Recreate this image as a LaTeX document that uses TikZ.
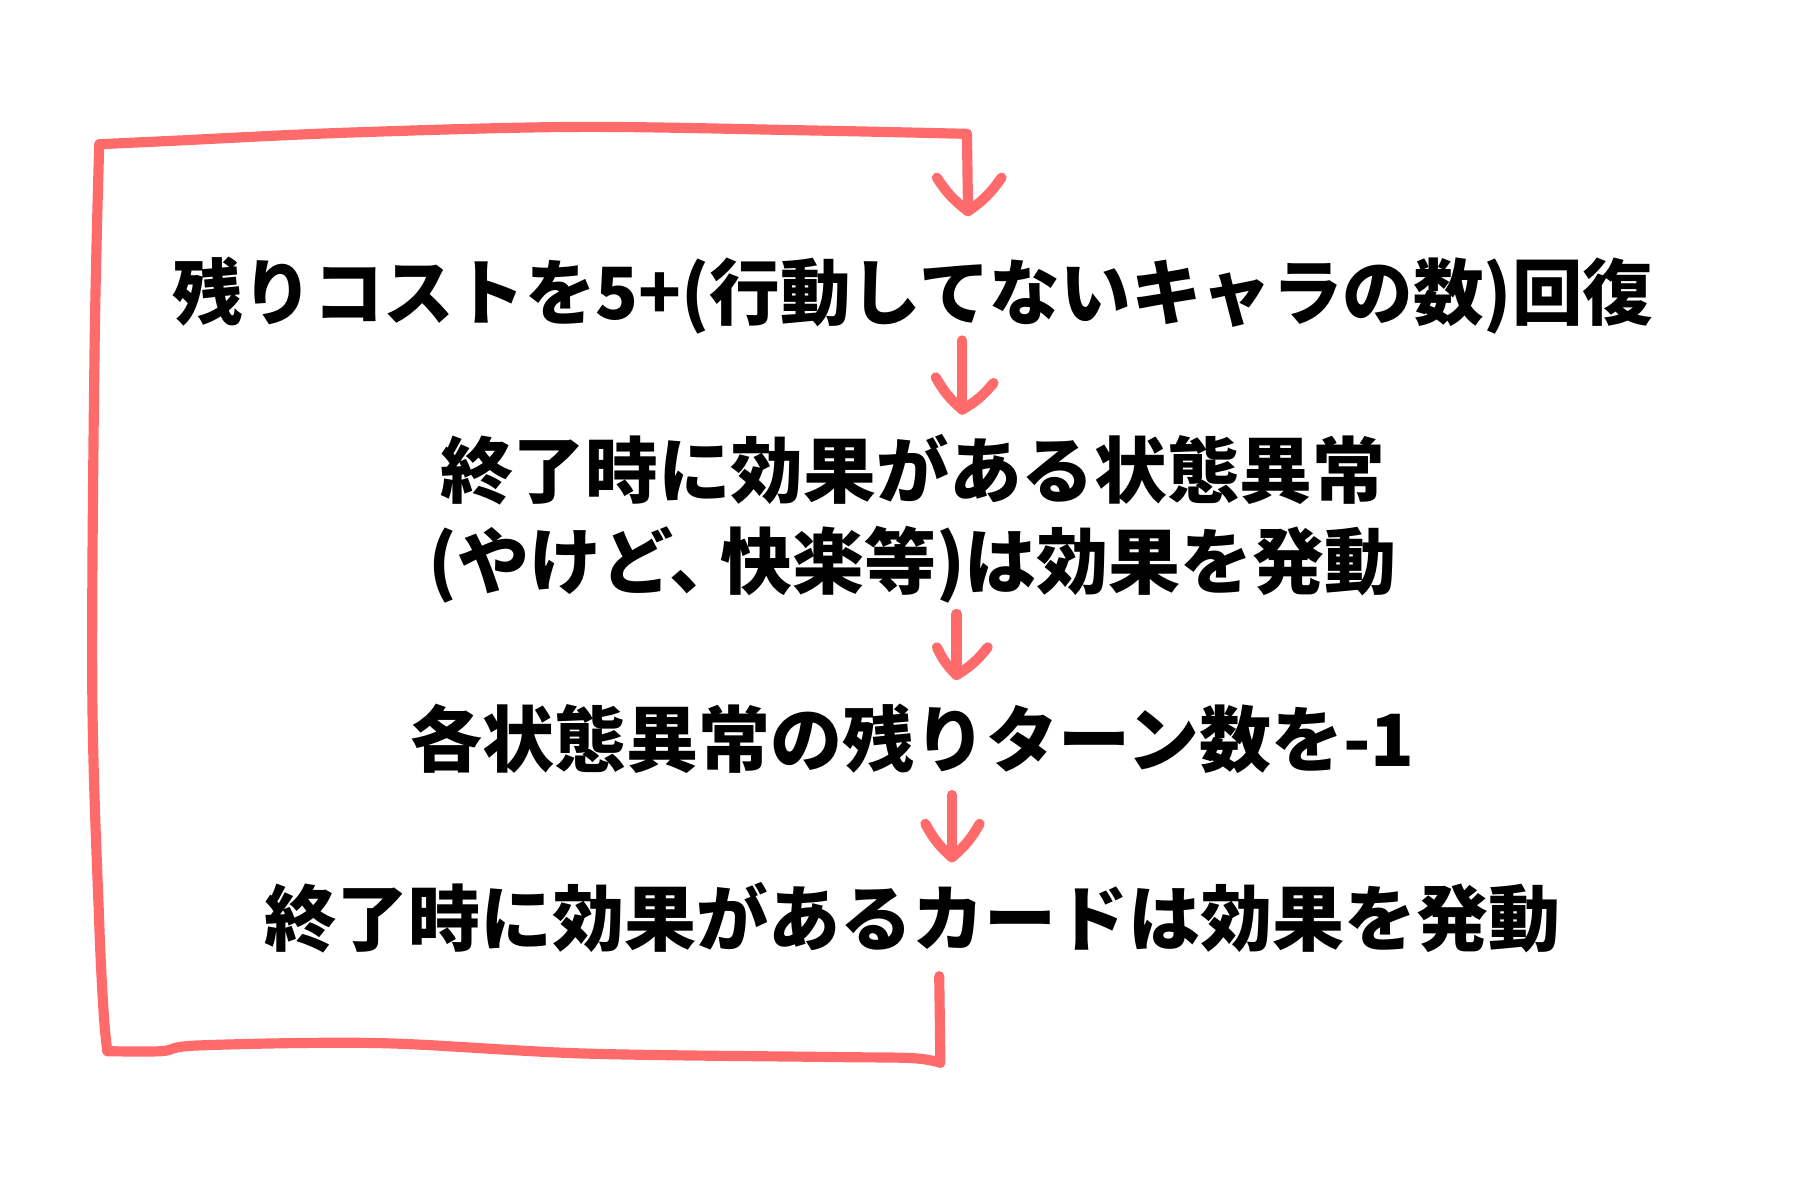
\documentclass[tikz,border=0pt]{standalone}
\usepackage{fontspec}
\newfontfamily\jp{Noto Sans CJK JP}[UprightFont=* Black]
\definecolor{penc}{RGB}{255,107,107}
\begin{document}
\begin{tikzpicture}[x=0.5pt,y=-0.5pt,
  pen/.style={draw=penc, line width=4.4pt, line cap=round, line join=round},
  lbl/.style={font=\jp\fontsize{31.2pt}{40pt}\selectfont, anchor=base, inner sep=0pt}]
\useasboundingbox (0,0) rectangle (1560,1040);
% texts
\node[lbl, xscale=0.98] (t1)  at (791,277) {残りコストを5+(行動してないキャラの数)回復};
\node[lbl, xscale=1.01] (t2)  at (791,431) {終了時に効果がある状態異常};
\node[lbl] (t2b) at (791,510) {(やけど、\kern-0.3em 快楽等)は効果を発動};
\node[lbl] (t3)  at (791,664) {各状態異常の残りターン数を-1};
\node[lbl] (t4)  at (791,819) {終了時に効果があるカードは効果を発動};
% anchor coordinates
\coordinate (l0) at (814,846);
\coordinate (l1) at (815,921);
\coordinate (l2) at (93,911);
\coordinate (l3) at (86,125);
\coordinate (l4) at (838,116);
\coordinate (a1) at (839,183);
\coordinate (a2s) at (834,295);
\coordinate (a2) at (834,355);
\coordinate (a3s) at (829,532);
\coordinate (a3) at (829,585);
\coordinate (a4s) at (825,689);
\coordinate (a4) at (825,743);
% loop back
\draw[pen] (l0) -- (l1);
\draw[pen] plot[smooth, tension=0.55] coordinates {(815,921) (790,917) (715,916) (505,913) (328,904) (173,906) (140,911) (93,911)};
\draw[pen] plot[smooth, tension=0.55] coordinates {(93,911) (90,880) (86,800) (80,600) (82,300) (86,125)};
\draw[pen] plot[smooth, tension=0.55] coordinates {(86,125) (150,122) (300,115) (500,110) (700,113) (838,116)};
\draw[pen] (l4) -- (a1);
\draw[pen] (812,154) to[bend right=10] (a1) to[bend right=10] (868,154);
% arrows between steps
\draw[pen] (a2s) -- (a2);
\draw[pen] (811,327) to[bend right=10] (a2) to[bend right=10] (861,332);
\draw[pen] (a3s) -- (a3);
\draw[pen] (812,561) to[bend right=10] (a3) to[bend right=10] (856,561);
\draw[pen] (a4s) -- (a4);
\draw[pen] (802,714) to[bend right=10] (a4) to[bend right=10] (849,714);
\end{tikzpicture}
\end{document}
